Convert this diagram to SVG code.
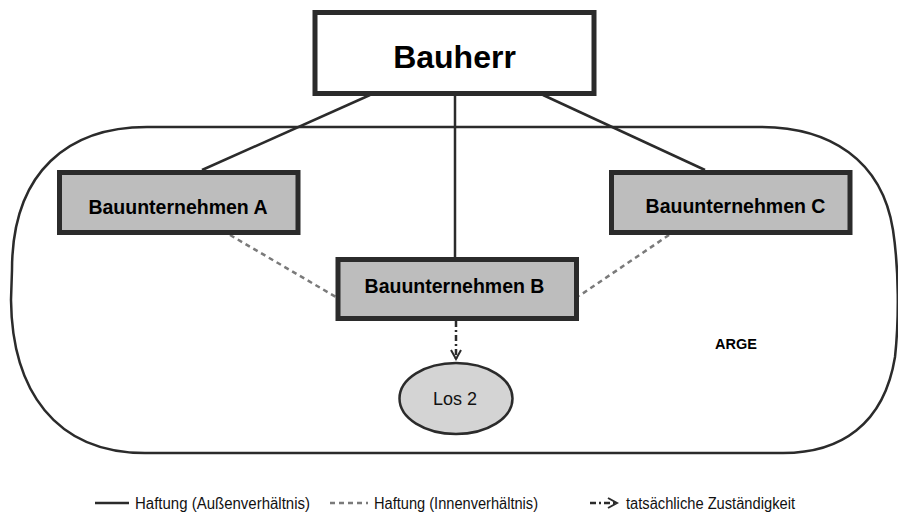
<svg xmlns="http://www.w3.org/2000/svg" width="898" height="513" viewBox="0 0 898 513">
<defs>
<style>
.box{fill:#bdbdbd;stroke:#2b2b2b;stroke-width:5}
.lbl{font-family:"Liberation Sans",Arial,sans-serif;font-weight:bold;fill:#000;text-anchor:middle}
.reg{font-family:"Liberation Sans",Arial,sans-serif;fill:#111}
.solid{stroke:#2b2b2b;stroke-width:2.5;fill:none}
.dash{stroke:#7a7a7a;stroke-width:2.5;stroke-dasharray:5 4;fill:none}
.dd{stroke:#2b2b2b;stroke-width:2.5;stroke-dasharray:6 3 2 3;fill:none}
</style>
<marker id="arr" viewBox="0 0 12 12" refX="10" refY="6" markerWidth="12" markerHeight="12" markerUnits="userSpaceOnUse" orient="auto">
<path d="M1,1 L10,6 L1,11" fill="none" stroke="#2b2b2b" stroke-width="2"/>
</marker>
</defs>
<rect width="898" height="513" fill="#fff"/>
<g id="arge">
<path d="M147,127 L760,127 C830,127 882,160 893,230 C899,270 899,320 895,357 C884,425 840,453 783,453 L145,453 C55,453 12,390 11,300 L12,270 C12,170 70,127 147,127 Z" fill="none" stroke="#2b2b2b" stroke-width="2.5"/>
<text class="lbl" x="736" y="349" font-size="14.5">ARGE</text>
</g>
<g id="connectors">
<line class="solid" x1="370" y1="95" x2="202" y2="170"/>
<line class="solid" x1="455" y1="95" x2="455" y2="258"/>
<line class="solid" x1="543" y1="95" x2="705" y2="170"/>
<line class="dash" x1="230" y1="235" x2="336" y2="297"/>
<line class="dash" x1="669" y1="235" x2="579" y2="296"/>
<line class="dd" x1="456" y1="321" x2="456" y2="359" marker-end="url(#arr)"/>
</g>
<g id="bauherr">
<rect x="315" y="12.5" width="279" height="81" fill="#fff" stroke="#2b2b2b" stroke-width="5"/>
<text class="lbl" x="454.5" y="68" font-size="32">Bauherr</text>
</g>
<g id="bauA">
<rect class="box" x="59.5" y="172.5" width="238.5" height="60"/>
<text class="lbl" x="178" y="214" font-size="19.5">Bauunternehmen A</text>
</g>
<g id="bauB">
<rect class="box" x="338" y="259.5" width="238.5" height="59"/>
<text class="lbl" x="454.5" y="293" font-size="19.5">Bauunternehmen B</text>
</g>
<g id="bauC">
<rect class="box" x="611.5" y="172.5" width="238.5" height="60"/>
<text class="lbl" x="735.5" y="213" font-size="19.5">Bauunternehmen C</text>
</g>
<g id="los2">
<ellipse cx="456" cy="398.5" rx="56.5" ry="35.5" fill="#d4d4d4" stroke="#2b2b2b" stroke-width="2.5"/>
<text class="reg" x="455" y="405" font-size="18" text-anchor="middle">Los 2</text>
</g>
<g id="legend">
<line class="solid" x1="95" y1="503" x2="129" y2="503"/>
<text class="reg" x="135" y="508.5" font-size="16" textLength="175" lengthAdjust="spacingAndGlyphs">Haftung (Außenverhältnis)</text>
<line class="dash" x1="330" y1="503" x2="368" y2="503" stroke-dasharray="4 3.5"/>
<text class="reg" x="374" y="508.5" font-size="16" textLength="164" lengthAdjust="spacingAndGlyphs">Haftung (Innenverhältnis)</text>
<line class="dd" x1="590" y1="503" x2="617" y2="503" marker-end="url(#arr)"/>
<text class="reg" x="626" y="508.5" font-size="16" textLength="169" lengthAdjust="spacingAndGlyphs">tatsächliche Zuständigkeit</text>
</g>
</svg>
